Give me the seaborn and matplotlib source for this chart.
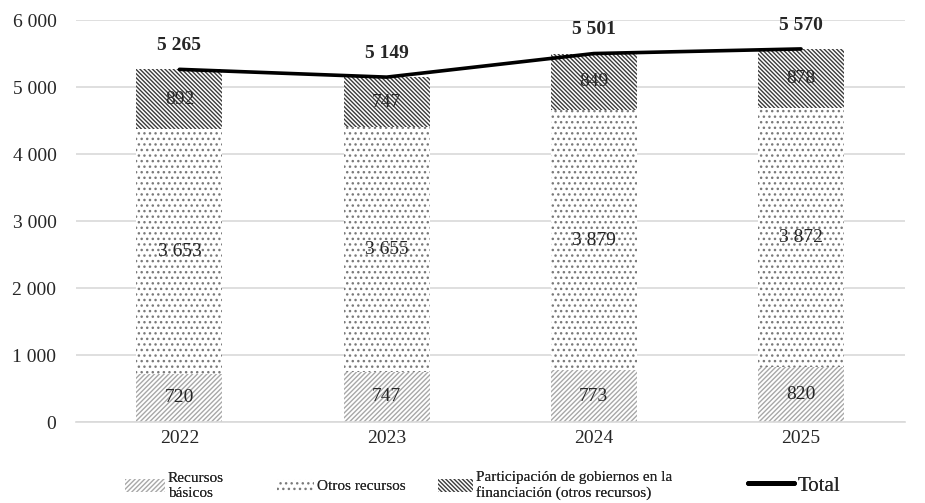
import numpy as np
import pandas as pd
import matplotlib
matplotlib.use("Agg")
import matplotlib.pyplot as plt
import seaborn as sns
from matplotlib.patches import Patch
from matplotlib.lines import Line2D

years = ["2022", "2023", "2024", "2025"]
basicos = [720, 747, 773, 820]
otros = [3653, 3655, 3879, 3872]
participacion = [892, 747, 849, 878]
totals = [5265, 5149, 5501, 5570]

labels = ["Recursos\nbásicos", "Otros recursos",
          "Participación de gobiernos en la\nfinanciación (otros recursos)", "Total"]


def fmt(v):
    return f"{v:,}".replace(",", " ")


sns.set_style("white")
plt.rcParams["font.family"] = ["Liberation Serif", "DejaVu Serif"]
plt.rcParams["hatch.linewidth"] = 1.0

df = pd.DataFrame({"year": years, "basicos": basicos, "otros": otros,
                   "participacion": participacion, "total": totals})
df["cum2"] = df["basicos"] + df["otros"]
df["cum3"] = df["cum2"] + df["participacion"]

fig = plt.figure(figsize=(9.25, 5.03), dpi=100)
ax = fig.add_axes([0.082, 0.161, 0.896, 0.799])

w = 0.415
# stacked bars drawn from the top layer down
layers = [("cum3", "\\" * 8, "#3a3a3a"),
          ("cum2", "...", "#7a7a7a"),
          ("basicos", "/" * 7, "#a8a8a8")]
for col, hatch, hc in layers:
    sns.barplot(data=df, x="year", y=col, color="white", edgecolor=hc,
                linewidth=0, hatch=hatch, width=w, ax=ax, zorder=2)

x = np.arange(len(years))
sns.lineplot(x=x, y=df["total"], color="black", linewidth=2.6, ax=ax, zorder=4)

# segment labels
for i in range(len(years)):
    ax.text(i, basicos[i] / 2, fmt(basicos[i]), ha="center", va="center",
            fontsize=14, zorder=5)
    ax.text(i, basicos[i] + otros[i] / 2, fmt(otros[i]), ha="center",
            va="center", fontsize=14, zorder=5)
    ax.text(i, df["cum2"][i] + participacion[i] / 2, fmt(participacion[i]),
            ha="center", va="center", fontsize=14, zorder=5)
    ax.annotate(fmt(totals[i]), (i, totals[i]), xytext=(0, 17),
                textcoords="offset points", ha="center", va="center",
                fontsize=14, fontweight="bold", zorder=5)

ax.set_ylim(0, 6000)
ax.set_xlim(-0.5, 3.5)
ax.set_yticks(range(0, 6001, 1000))
ax.set_yticklabels([fmt(v) for v in range(0, 6001, 1000)])
ax.yaxis.grid(True, color="#d9d9d9", linewidth=1.2, zorder=0)
ax.set_axisbelow(True)
ax.tick_params(axis="y", length=0, pad=14, labelsize=14)
ax.tick_params(axis="x", length=0, pad=6, labelsize=14)
ax.set_xlabel("")
ax.set_ylabel("")
sns.despine(ax=ax, left=True, top=True, right=True, bottom=False)
ax.spines["bottom"].set_color("#d9d9d9")
ax.spines["bottom"].set_linewidth(1.2)

# legend: one entry per block, placed like the original
handles = [Patch(facecolor="white", edgecolor=c, hatch=h, linewidth=0)
           for _, h, c in layers[::-1]]
handles.append(Line2D([0], [0], color="black", linewidth=3.5))
leg_x = [125, 277, 438, 748]
leg_len = [2.6, 2.4, 2.3, 3.0]
for k, (hd, lab) in enumerate(zip(handles, labels)):
    fs = 15 if k == 3 else 11
    lg = fig.legend([hd], [lab], loc="center left",
                    bbox_to_anchor=(leg_x[k] / 925, 0.034), frameon=False,
                    fontsize=fs, handlelength=leg_len[k] * 11 / fs,
                    handleheight=0.9, handletextpad=0.2, borderpad=0,
                    borderaxespad=0)
    fig.add_artist(lg)

fig.savefig("out.png", dpi=100)
